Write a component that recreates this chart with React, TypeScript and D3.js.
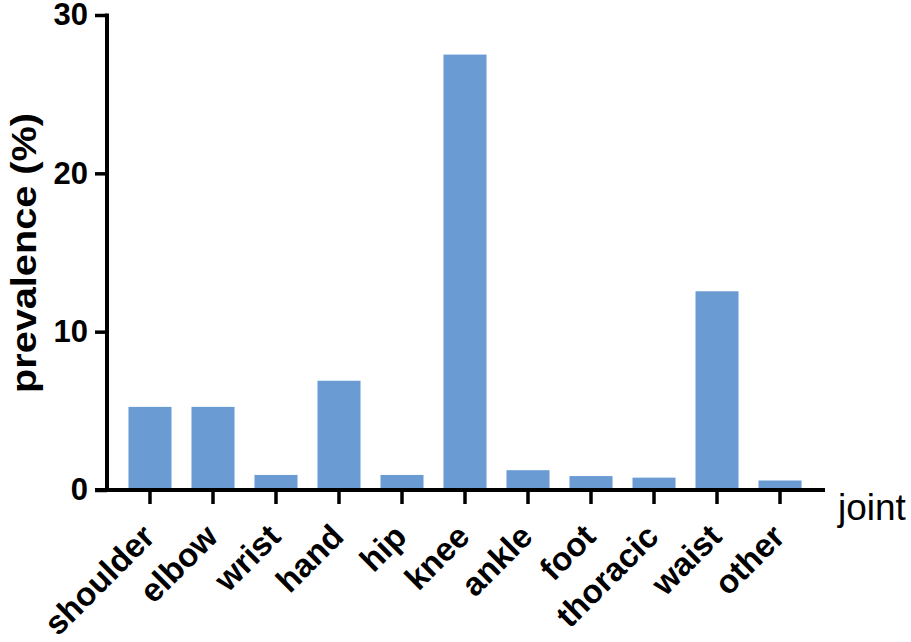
import React, { useRef, useEffect } from 'react';
import { select, scaleBand, scaleLinear, axisLeft, axisBottom } from 'd3';

const joints = ['shoulder', 'elbow', 'wrist', 'hand', 'hip', 'knee', 'ankle', 'foot', 'thoracic', 'waist', 'other'];
const prevalence = [5.25, 5.25, 0.95, 6.9, 0.95, 27.5, 1.25, 0.88, 0.78, 12.55, 0.6];
const yTicks = [0, 10, 20, 30];

const W = 911;
const H = 642;
const FONT = '"Liberation Sans", Arial, sans-serif';

export default function App() {
    const svgRef: { current: SVGSVGElement | null } = useRef(null);

    useEffect(() => {
        const svg = select(svgRef.current);

        const x: any = scaleBand().domain(joints).range([108.5, 821.5]).paddingInner(0.317).paddingOuter(0.317);
        const y: any = scaleLinear().domain([0, 30]).range([490, 15]);

        svg.select('.bars')
            .selectAll('rect')
            .data(prevalence)
            .join('rect')
            .attr('x', (d, i) => x(joints[i]))
            .attr('width', x.bandwidth())
            .attr('y', (d) => y(d))
            .attr('height', (d) => y(0) - y(d))
            .attr('fill', '#6a9bd3');

        // y axis
        const yAxis: any = axisLeft(y).tickValues(yTicks).tickSize(12).tickSizeOuter(0).tickPadding(7);
        const gy = svg.select('.y-axis').attr('transform', 'translate(107,0)').call(yAxis);
        gy.select('.domain').attr('stroke-width', 4).attr('d', `M0,${y(30) - 1.5}V${y(0) + 2}`);
        gy.selectAll('.tick line').attr('stroke-width', 3.5);
        gy.selectAll('.tick text')
            .attr('font-family', FONT)
            .attr('font-weight', 'bold')
            .attr('font-size', 31)
            .attr('fill', '#000');

        // x axis
        const xAxis: any = axisBottom(x).tickSize(14).tickSizeOuter(0).tickFormat(() => '');
        const gx = svg.select('.x-axis').attr('transform', `translate(0,${y(0)})`).call(xAxis);
        gx.select('.domain').attr('stroke-width', 4).attr('d', 'M95,0H825');
        gx.selectAll('.tick line').attr('stroke-width', 3.5);

        svg.select('.x-labels')
            .selectAll('text')
            .data(joints)
            .join('text')
            .attr('transform', (d) => `translate(${x(d) + x.bandwidth() / 2 - 10},${y(0) + 32}) rotate(-45)`)
            .attr('text-anchor', 'end')
            .attr('dy', '0.71em')
            .attr('font-family', FONT)
            .attr('font-weight', 'bold')
            .attr('font-size', 33)
            .text((d) => d);
    }, []);

    return (
        <svg ref={svgRef} width={W} height={H} style={{ position: 'absolute', left: 0, top: 0, background: '#fff' }}>
            <g className="bars" />
            <g className="y-axis" />
            <g className="x-axis" />
            <g className="x-labels" />
            <text
                transform="translate(36,253) rotate(-90)"
                textAnchor="middle"
                fontFamily={FONT}
                fontWeight="bold"
                fontSize={35}
                textLength={280}
                lengthAdjust="spacingAndGlyphs"
            >
                prevalence (%)
            </text>
            <text x={838} y={520} fontFamily={FONT} fontSize={37}>
                joint
            </text>
        </svg>
    );
}
